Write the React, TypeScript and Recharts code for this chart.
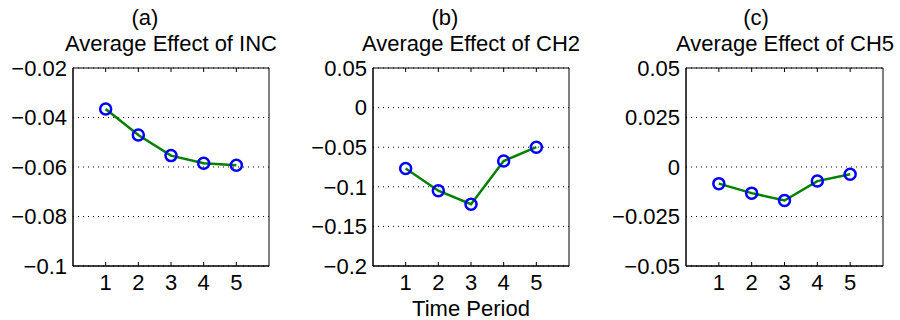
import React from "react"
import { LineChart, Line, XAxis, YAxis, CartesianGrid, ReferenceArea } from "recharts"

const periods = [1, 2, 3, 4, 5]
const xTicks = [1, 2, 3, 4, 5]
const xDomain: [number, number] = [0, 6]

const incValues = [-0.0366, -0.0471, -0.0554, -0.0585, -0.0593]
const ch2Values = [-0.077, -0.105, -0.122, -0.0675, -0.05]
const ch5Values = [-0.0084, -0.0132, -0.0169, -0.0071, -0.0037]

const incTicks = [-0.1, -0.08, -0.06, -0.04, -0.02]
const incLabels = ["\u22120.1", "\u22120.08", "\u22120.06", "\u22120.04", "\u22120.02"]
const ch2Ticks = [-0.2, -0.15, -0.1, -0.05, 0, 0.05]
const ch2Labels = ["\u22120.2", "\u22120.15", "\u22120.1", "\u22120.05", "0", "0.05"]
const ch5Ticks = [-0.05, -0.025, 0, 0.025, 0.05]
const ch5Labels = ["\u22120.05", "\u22120.025", "0", "0.025", "0.05"]

const FONT = "'Liberation Sans', Arial, Helvetica, sans-serif"
const PLOT_H = 198

// bottom label plus small inward tick marks at bottom and top of the box
function XTick(props: any) {
  const { x, y, payload } = props
  return (
    <g>
      <line x1={x} x2={x} y1={y} y2={y - 4} stroke="#000" strokeWidth={1} />
      <line x1={x} x2={x} y1={y - PLOT_H} y2={y - PLOT_H + 4} stroke="#000" strokeWidth={1} />
      <text x={x} y={y + 24} textAnchor="middle" fontSize={22} fill="#000" fontFamily={FONT}>
        {payload.value}
      </text>
    </g>
  )
}

interface PanelProps {
  left: number
  yWidth: number
  rightMargin: number
  values: number[]
  ticks: number[]
  labels: string[]
}

function Panel({ left, yWidth, rightMargin, values, ticks, labels }: PanelProps) {
  const data = periods.map((p, i) => ({ period: p, value: values[i] }))
  const domain: [number, number] = [ticks[0], ticks[ticks.length - 1]]
  return (
    <div style={{ position: "absolute", left, top: 0 }}>
      <LineChart
        width={300}
        height={320}
        data={data}
        margin={{ top: 68, right: rightMargin, bottom: 24, left: 0 }}
      >
        <CartesianGrid vertical={false} stroke="#000" strokeDasharray="1 4" />
        <XAxis
          dataKey="period"
          type="number"
          domain={xDomain}
          ticks={xTicks}
          interval={0}
          height={30}
          tickSize={0}
          tickMargin={0}
          tickLine={false}
          axisLine={{ stroke: "#000" }}
          tick={<XTick />}
        />
        <YAxis
          type="number"
          domain={domain}
          ticks={ticks}
          interval={0}
          width={yWidth}
          tickSize={0}
          tickMargin={6}
          tickLine={false}
          axisLine={{ stroke: "#000" }}
          tick={{ fontSize: 22, fill: "#000", fontFamily: FONT }}
          tickFormatter={(v: number) => labels[ticks.findIndex((t) => Math.abs(t - v) < 1e-9)]}
        />
        <ReferenceArea
          x1={xDomain[0]}
          x2={xDomain[1]}
          y1={domain[0]}
          y2={domain[1]}
          fill="none"
          fillOpacity={0}
          stroke="#000"
          strokeWidth={1}
          ifOverflow="visible"
        />
        <Line
          type="linear"
          dataKey="value"
          stroke="#008000"
          strokeWidth={2.5}
          dot={{ r: 5.5, stroke: "#0000ff", strokeWidth: 2.5, fill: "none" }}
          isAnimationActive={false}
        />
      </LineChart>
    </div>
  )
}

export default function App() {
  return (
    <div style={{ position: "absolute", left: 0, top: 0, width: 900, height: 320, background: "#fff" }}>
      <Panel left={0} yWidth={73} rightMargin={31} values={incValues} ticks={incTicks} labels={incLabels} />
      <Panel left={300} yWidth={73} rightMargin={31} values={ch2Values} ticks={ch2Ticks} labels={ch2Labels} />
      <Panel left={600} yWidth={86} rightMargin={17} values={ch5Values} ticks={ch5Ticks} labels={ch5Labels} />
      <svg
        width={900}
        height={320}
        style={{ position: "absolute", left: 0, top: 0, pointerEvents: "none" }}
        fontFamily={FONT}
        fill="#000"
      >
        <text x={145} y={25} textAnchor="middle" fontSize={22}>(a)</text>
        <text x={171} y={51} textAnchor="middle" fontSize={22}>Average Effect of INC</text>
        <text x={445} y={25} textAnchor="middle" fontSize={22}>(b)</text>
        <text x={471} y={51} textAnchor="middle" fontSize={22}>Average Effect of CH2</text>
        <text x={756} y={25} textAnchor="middle" fontSize={22}>(c)</text>
        <text x={785} y={51} textAnchor="middle" fontSize={22}>Average Effect of CH5</text>
        <text x={471} y={316} textAnchor="middle" fontSize={22}>Time Period</text>
      </svg>
    </div>
  )
}
